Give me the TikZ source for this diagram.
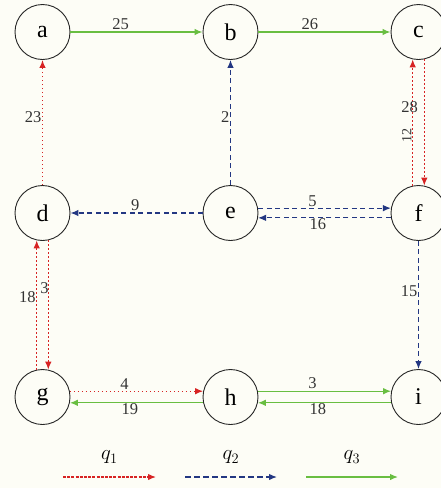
\documentclass[tikz,border=0pt]{standalone}
\usepackage{fontspec}
\setmainfont{Liberation Serif}
\usetikzlibrary{arrows.meta}
\begin{document}
\definecolor{bgc}{RGB}{253,253,246}
\definecolor{qred}{RGB}{215,35,35}
\definecolor{qblue}{RGB}{35,55,130}
\definecolor{qgreen}{RGB}{105,190,65}
\tikzset{
  vert/.style={circle,draw=black!85,line width=0.9pt,minimum size=55pt,inner sep=0pt,font=\fontsize{24}{24}\selectfont},
  lbl/.style={font=\fontsize{16.5}{16.5}\selectfont,inner sep=1.5pt,text=black!80},
  tipo/.style={-{Latex[length=8pt,width=6.5pt]}},
  rdot/.style={tipo,draw=qred,line width=1.3pt,dash pattern=on 1.3pt off 2.7pt},
  bdash/.style={tipo,draw=qblue,line width=1.2pt,dash pattern=on 5pt off 3.5pt},
  gsol/.style={tipo,draw=qgreen,line width=1.3pt},
  rleg/.style={tipo,draw=qred,line width=1.3pt,dash pattern=on 3pt off 1.2pt},
  bleg/.style={tipo,draw=qblue,line width=1.3pt,dash pattern=on 5.5pt off 3.5pt},
  qlab/.style={font=\fontsize{20}{20}\selectfont}
}
\begin{tikzpicture}[x=1pt,y=-1pt]
\fill[bgc] (0,0) rectangle (441,488);
\useasboundingbox (0,0) rectangle (441,488);
\node[vert] (a) at (42.5,32) {a};
\node[vert] (b) at (230.5,32) {b};
\node[vert] (c) at (418.5,32) {c};
\node[vert] (d) at (42.5,213) {d};
\node[vert] (e) at (230.5,213) {e};
\node[vert] (f) at (418.5,213) {f};
\node[vert] (g) at (42.5,397) {g};
\node[vert] (h) at (230.5,397) {h};
\node[vert] (i) at (418.5,397) {i};
% top row
\draw[gsol] (a) -- node[lbl,pos=0.38,above] {25} (b);
\draw[gsol] (b) -- node[lbl,pos=0.39,above] {26} (c);
% verticals
\draw[rdot] (d) -- node[lbl,pos=0.54,left,xshift=1pt] {23} (a);
\draw[bdash] (e) -- node[lbl,pos=0.54,left,xshift=1pt] {2} (b);
\draw[rdot] (f.102) -- node[lbl,pos=0.62,xshift=-3pt] {28}
  node[lbl,pos=0.40,xshift=-6pt,rotate=90,font=\fontsize{14}{14}\selectfont] {12} (c.258);
\draw[rdot] (c.282) -- (f.78);
% middle row
\draw[bdash] (e) -- node[lbl,pos=0.51,above] {9} (d);
\draw[bdash] (e.10) -- node[lbl,pos=0.41,above,yshift=-1pt] {5} (f.170);
\draw[bdash] (f.190) -- node[lbl,pos=0.55,below,yshift=1pt] {16} (e.350);
\draw[bdash] (f) -- node[lbl,pos=0.39,left,xshift=1pt] {15} (i);
% d-g
\draw[rdot] (g.102) -- node[lbl,pos=0.56,left,xshift=1pt] {18} (d.258);
\draw[rdot] (d.282) -- node[lbl,pos=0.37,left,xshift=2.5pt] {3} (g.78);
% bottom row
\draw[rdot] (g.12) -- node[lbl,pos=0.41,above] {4} (h.168);
\draw[gsol] (h.192) -- node[lbl,pos=0.55,below,yshift=1pt] {19} (g.348);
\draw[gsol] (h.12) -- node[lbl,pos=0.41,above] {3} (i.168);
\draw[gsol] (i.192) -- node[lbl,pos=0.55,below,yshift=1pt] {18} (h.348);
% legend
\coordinate (l1s) at (63,477); \coordinate (l1e) at (156,477);
\coordinate (l2s) at (185,477); \coordinate (l2e) at (277,477);
\coordinate (l3s) at (306,477); \coordinate (l3e) at (398,477);
\draw[rleg] (l1s) -- node[qlab,above=9pt] (q1) {$q_1$} (l1e);
\draw[bleg] (l2s) -- node[qlab,above=9pt] (q2) {$q_2$} (l2e);
\draw[gsol] (l3s) -- node[qlab,above=9pt] (q3) {$q_3$} (l3e);
\end{tikzpicture}
\end{document}
